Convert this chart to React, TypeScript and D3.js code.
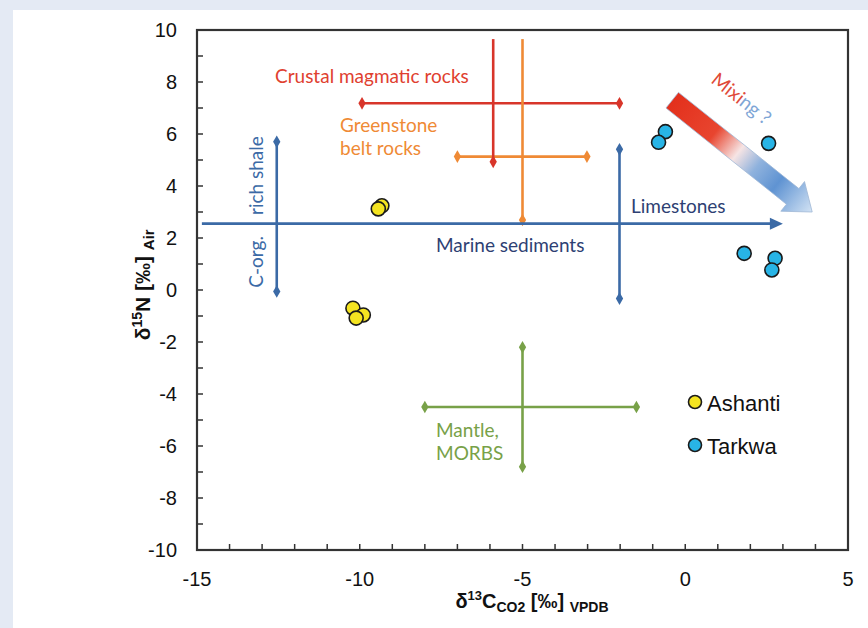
import React, { useEffect, useRef } from 'react';
import * as d3 from 'd3';

// sample points
const ashantiX = [-9.32, -9.43, -10.21, -9.89, -10.11];
const ashantiY = [3.24, 3.12, -0.7, -0.96, -1.08];
const tarkwaX = [-0.61, -0.82, 2.56, 1.81, 2.76, 2.66];
const tarkwaY = [6.09, 5.68, 5.64, 1.41, 1.22, 0.77];

// reference fields: [x1, y1, x2, y2]
const crustalH = [-9.93, 7.18, -2.02, 7.18];
const crustalV = [-5.9, 9.65, -5.9, 4.93];
const greenstoneH = [-7.0, 5.13, -3.02, 5.13];
const greenstoneV = [-5.0, 9.65, -5.0, 2.69];
const shaleV = [-12.55, 5.7, -12.55, -0.06];
const limestoneV = [-2.02, 5.41, -2.02, -0.33];
const marineH = [-14.85, 2.55, 3.0, 2.55];
const mantleH = [-8.0, -4.5, -1.5, -4.5];
const mantleV = [-5.0, -2.2, -5.0, -6.8];
const mixing = [-0.4, 7.3, 3.9, 3.0];

const xTicks = [-15, -10, -5, 0, 5];
const yTicks = [10, 8, 6, 4, 2, 0, -2, -4, -6, -8, -10];

const W = 868, H = 628;
const margin = { top: 30, right: 20, bottom: 78, left: 197 };

const RED = '#d8352a', ORANGE = '#ef8a35', BLUE = '#3b6aa6', NAVY = '#2e3f73', GREEN = '#78a148';
const LABEL_FONT = 'Lato, "Open Sans", sans-serif';
const AXIS_FONT = 'Arial, "Liberation Sans", sans-serif';

function App() {
    const ref = useRef<SVGSVGElement>(null);

    useEffect(() => {
        const svg = d3.select(ref.current);
        svg.selectAll('*').remove();

        const x = d3.scaleLinear().domain([-15, 5]).range([margin.left, W - margin.right]);
        const y = d3.scaleLinear().domain([-10, 10]).range([H - margin.bottom, margin.top]);

        svg.append('rect').attr('width', W).attr('height', H).attr('fill', '#e4eaf4');
        svg.append('rect').attr('x', 13).attr('y', 10).attr('width', W - 13).attr('height', H - 10).attr('fill', '#fff');

        const defs = svg.append('defs');

        // ticks (inward)
        const axes = svg.append('g').attr('stroke', '#333').attr('stroke-width', 1.5);
        d3.range(-9, 10).forEach(v => {
            axes.append('line').attr('x1', x(-15)).attr('x2', x(-15) + 6).attr('y1', y(v)).attr('y2', y(v));
        });
        d3.range(-14, 5).forEach(v => {
            axes.append('line').attr('x1', x(v)).attr('x2', x(v)).attr('y1', y(-10)).attr('y2', y(-10) - 6);
        });
        svg.append('rect')
            .attr('x', x(-15)).attr('y', y(10))
            .attr('width', x(5) - x(-15)).attr('height', y(-10) - y(10))
            .attr('fill', 'none').attr('stroke', '#333').attr('stroke-width', 2.2);

        svg.append('g').selectAll('text').data(yTicks).join('text')
            .attr('x', x(-15) - 20).attr('y', d => y(d) + 7)
            .attr('text-anchor', 'end')
            .attr('font-family', AXIS_FONT).attr('font-size', 20).attr('fill', '#111')
            .text(d => d);
        svg.append('g').selectAll('text').data(xTicks).join('text')
            .attr('x', d => x(d)).attr('y', y(-10) + 36)
            .attr('text-anchor', 'middle')
            .attr('font-family', AXIS_FONT).attr('font-size', 20).attr('fill', '#111')
            .text(d => d);

        // axis titles
        const xl = svg.append('text')
            .attr('x', 532).attr('y', 608).attr('text-anchor', 'middle')
            .attr('font-family', AXIS_FONT).attr('font-weight', 'bold').attr('font-size', 20).attr('fill', '#111');
        xl.append('tspan').text('δ');
        xl.append('tspan').attr('font-size', 13).attr('dy', -8).text('13');
        xl.append('tspan').attr('dy', 8).text('C');
        xl.append('tspan').attr('font-size', 14).attr('dy', 4).text('CO2');
        xl.append('tspan').attr('dy', -4).text(' [‰] ');
        xl.append('tspan').attr('font-size', 14).attr('dy', 4).text('VPDB');

        const yl = svg.append('text')
            .attr('transform', `translate(150,${y(0.2)}) rotate(-90)`)
            .attr('text-anchor', 'middle')
            .attr('font-family', AXIS_FONT).attr('font-weight', 'bold').attr('font-size', 21).attr('fill', '#111');
        yl.append('tspan').text('δ');
        yl.append('tspan').attr('font-size', 14).attr('dy', -8).text('15');
        yl.append('tspan').attr('dy', 8).text('N [‰] ');
        yl.append('tspan').attr('font-size', 15).attr('dy', 4).text('Air');

        // range lines with diamond ends
        const diamond = d3.symbol().type(d3.symbolDiamond).size(46);
        function segment(s: number[], color: string, ends: boolean[]) {
            const g = svg.append('g');
            g.append('line')
                .attr('x1', x(s[0])).attr('y1', y(s[1])).attr('x2', x(s[2])).attr('y2', y(s[3]))
                .attr('stroke', color).attr('stroke-width', 2.6);
            [[s[0], s[1]], [s[2], s[3]]].forEach((p, i) => {
                if (!ends[i]) return;
                g.append('path').attr('d', diamond).attr('fill', color)
                    .attr('transform', `translate(${x(p[0])},${y(p[1])})`);
            });
        }

        segment(crustalH, RED, [true, true]);
        segment(greenstoneH, ORANGE, [true, true]);
        segment(greenstoneV, ORANGE, [false, true]);
        segment(crustalV, RED, [false, true]);
        segment(shaleV, BLUE, [true, true]);
        segment(limestoneV, BLUE, [true, true]);
        segment(mantleH, GREEN, [true, true]);
        segment(mantleV, GREEN, [true, true]);

        // marine sediments arrow
        const mx2 = x(marineH[2]), my = y(marineH[1]);
        svg.append('line')
            .attr('x1', x(marineH[0])).attr('y1', my).attr('x2', mx2 - 8).attr('y2', my)
            .attr('stroke', BLUE).attr('stroke-width', 2.8);
        svg.append('path')
            .attr('d', `M${mx2},${my} L${mx2 - 13},${my - 6} L${mx2 - 13},${my + 6} Z`)
            .attr('fill', BLUE);

        // mixing arrow
        const tx = x(mixing[0]), ty = y(mixing[1]), hx = x(mixing[2]), hy = y(mixing[3]);
        const grad = defs.append('linearGradient').attr('id', 'mixgrad')
            .attr('gradientUnits', 'userSpaceOnUse')
            .attr('x1', tx).attr('y1', ty).attr('x2', hx).attr('y2', hy);
        [[0, '#e3301c'], [0.3, '#e8452f'], [0.47, '#f6e4e4'], [0.6, '#8fb2dd'], [0.75, '#5f93d2'], [1, '#d3e3f4']]
            .forEach(([o, c]) => grad.append('stop').attr('offset', o as number).attr('stop-color', c as string));
        const len = Math.hypot(hx - tx, hy - ty);
        const ux = (hx - tx) / len, uy = (hy - ty) / len, px = -uy, py = ux;
        const bw = 10, hw = 19, hl = 25;
        const bx = hx - ux * hl, by = hy - uy * hl;
        const pts = [
            [tx + px * bw, ty + py * bw], [bx + px * bw, by + py * bw], [bx + px * hw, by + py * hw],
            [hx, hy],
            [bx - px * hw, by - py * hw], [bx - px * bw, by - py * bw], [tx - px * bw, ty - py * bw]
        ];
        svg.append('path')
            .attr('d', 'M' + pts.map(p => p.join(',')).join('L') + 'Z')
            .attr('fill', 'url(#mixgrad)').attr('stroke', '#9fb8d6').attr('stroke-width', 0.8);
        const ang = Math.atan2(hy - ty, hx - tx) * 180 / Math.PI;
        const mt = svg.append('text')
            .attr('transform', `translate(710,82) rotate(${ang})`)
            .attr('font-family', LABEL_FONT).attr('font-size', 19);
        mt.append('tspan').attr('fill', '#e04a38').text('Mixi');
        mt.append('tspan').attr('fill', '#7fa6d6').text('ng ?');

        // labels
        function label(t: string, lx: number, ly: number, color: string, anchor = 'start', tr = '') {
            svg.append('text').attr('x', lx).attr('y', ly).attr('text-anchor', anchor)
                .attr('transform', tr || null)
                .attr('font-family', LABEL_FONT).attr('font-size', 19).attr('fill', color).text(t);
        }
        label('Crustal magmatic rocks', 275, 83, '#e0402f');
        label('Greenstone', 340, 132, ORANGE);
        label('belt rocks', 340, 155, ORANGE);
        label('Marine sediments', 436, 252, NAVY);
        label('Limestones', 631, 213, NAVY);
        label('Mantle,', 436, 437, GREEN);
        label('MORBS', 436, 460, GREEN);
        label('rich shale', 0, 0, BLUE, 'middle', `translate(263,${y(4.4)}) rotate(-90)`);
        label('C-org.', 0, 0, BLUE, 'middle', `translate(263,${y(1.08)}) rotate(-90)`);

        // points
        function dots(xs: number[], ys: number[], fill: string) {
            svg.append('g').selectAll('circle').data(xs).join('circle')
                .attr('cx', d => x(d)).attr('cy', (d, i) => y(ys[i]))
                .attr('r', 7).attr('fill', fill).attr('stroke', '#1a1a1a').attr('stroke-width', 1.6);
        }
        dots(ashantiX, ashantiY, '#f4e421');
        dots(tarkwaX, tarkwaY, '#28b4e6');

        // legend
        const legend = [['Ashanti', '#f4e421'], ['Tarkwa', '#28b4e6']];
        legend.forEach(([name, c], i) => {
            const ly = 402 + i * 43;
            svg.append('circle').attr('cx', 695).attr('cy', ly).attr('r', 6.5)
                .attr('fill', c).attr('stroke', '#1a1a1a').attr('stroke-width', 1.6);
            svg.append('text').attr('x', 707).attr('y', ly + 9)
                .attr('font-family', AXIS_FONT).attr('font-size', 22).attr('fill', '#111').text(name);
        });
    }, []);

    return <svg ref={ref} width={W} height={H} style={{ position: 'absolute', left: 0, top: 0 }} />;
}

export default App;
